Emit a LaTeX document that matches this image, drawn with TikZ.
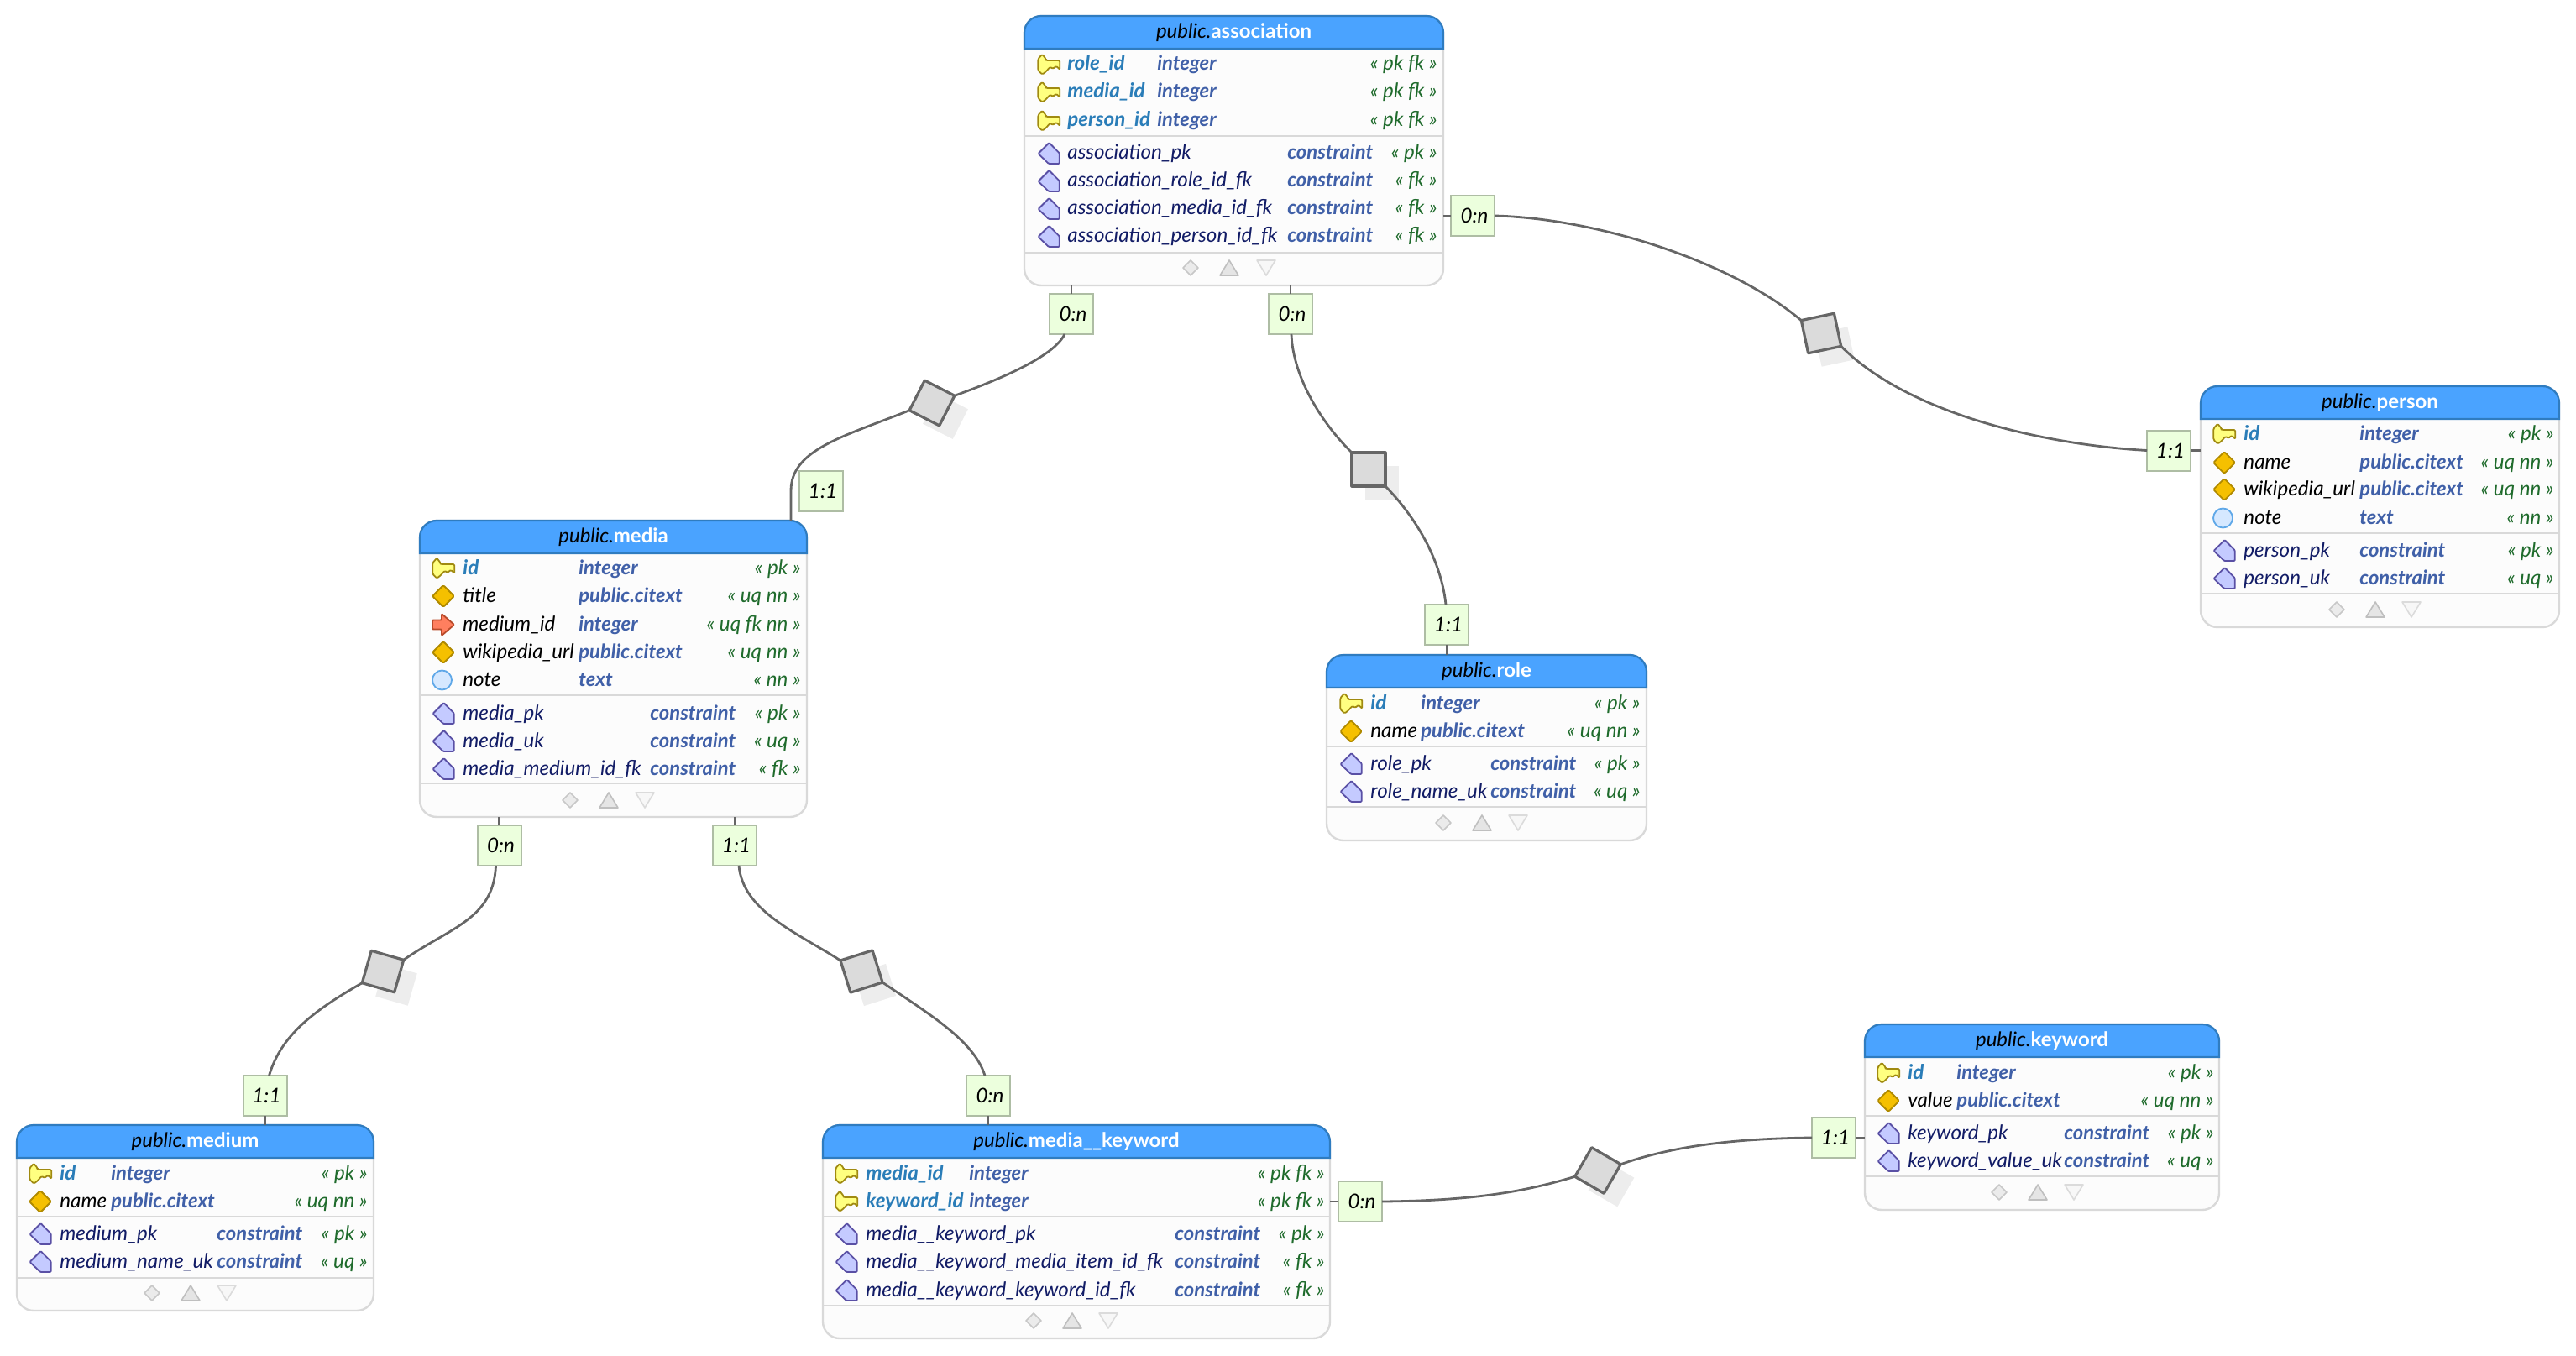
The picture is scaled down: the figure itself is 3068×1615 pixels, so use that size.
\documentclass[tikz,border=0pt]{standalone}
\usepackage{fontspec}
\setmainfont{Lato}
\usetikzlibrary{positioning}

\definecolor{headblue}{HTML}{4AA3FF}
\definecolor{headline}{HTML}{2F7CC0}
\definecolor{bodyfill}{HTML}{FCFCFC}
\definecolor{bodyline}{HTML}{D9D9D9}
\definecolor{pkblue}{HTML}{2A7DB8}
\definecolor{typeblue}{HTML}{4060A8}
\definecolor{conblue}{HTML}{121C66}
\definecolor{taggreen}{HTML}{1F6B2C}
\definecolor{cardfill}{HTML}{ECFFDD}
\definecolor{cardline}{HTML}{AEBDA4}
\definecolor{relgrey}{HTML}{666666}
\definecolor{keyfill}{HTML}{FFFF80}
\definecolor{keyline}{HTML}{A08A10}
\definecolor{uqfill}{HTML}{F5C000}
\definecolor{uqline}{HTML}{B08A00}
\definecolor{fkfill}{HTML}{FF7F5F}
\definecolor{fkline}{HTML}{B84A2A}
\definecolor{nnfill}{HTML}{D5E8FF}
\definecolor{nnline}{HTML}{5FA8E8}
\definecolor{confill}{HTML}{C4CAFF}
\definecolor{conline}{HTML}{5A50A5}

\tikzset{
  pkicon/.pic={\draw[fill=keyfill,draw=keyline,line width=.9pt,line join=round,rounded corners=.7pt]
    (-12.7,-6.7) -- (-7.7,-12.3) -- (-3.3,-6.7) -- (-3.3,-5) -- (13.3,-5) -- (13.3,6) -- (9,1.7)
    -- (5,5) -- (1.7,2.7) -- (-3.3,8.3) -- (-7.7,11.7) -- (-12.7,6.7) -- cycle;},
  uqicon/.pic={\draw[fill=uqfill,draw=uqline,line width=.9pt,line join=round,rounded corners=.8pt]
    (-13,0) -- (0,-13) -- (13,0) -- (0,13) -- cycle;},
  fkicon/.pic={\draw[fill=fkfill,draw=fkline,line width=.9pt,line join=round,rounded corners=.5pt]
    (-13,-5.5) -- (-2,-5.5) -- (-2,-13) -- (13,0) -- (-2,13) -- (-2,5.5) -- (-13,5.5) -- cycle;},
  nnicon/.pic={\draw[fill=nnfill,draw=nnline,line width=.9pt]
    (-1.5,0) circle (11.5);},
  conicon/.pic={\draw[fill=confill,draw=conline,line width=.9pt,line join=round,rounded corners=.5pt]
    (-12.5,0) -- (0.5,-13) -- (12.7,-0.7) -- (12.7,12) -- (0,12) -- cycle;},
  fdia/.pic={\draw[fill=black!8,draw=black!22,line width=.8pt,line join=round]
    (-9,0) -- (0,-9) -- (9,0) -- (0,9) -- cycle;},
  fup/.pic={\draw[fill=black!10,draw=black!25,line width=.8pt,line join=round]
    (-11,9) -- (0,-9) -- (11,9) -- cycle;},
  fdown/.pic={\draw[fill=black!3,draw=black!14,line width=.8pt,line join=round]
    (-11,-9) -- (11,-9) -- (0,9) -- cycle;}
}

% one box with title strip
\newcommand{\ertable}[6]{%
  \def\tid{#1}\def\tleft{#2}\def\tright{#4}%
  \node[tblbody,minimum width={(#4-#2)*0.5pt},minimum height={(#5-#3)*0.5pt}] (#1) at (#2,#3) {};
  \draw[tblhead] (#2,#3+39) [rounded corners=10pt] -- (#2,#3) -- (#4,#3) [sharp corners] -- (#4,#3+39) -- cycle;
  \node[tbltitle] (#1title) at ({(#2+#4)/2},{#3+20}) {{\itshape public.}\textcolor{white}{\bfseries #6}};}
\newcommand{\ercols}[5]{\def\iconx{#1}\def\namex{#2}\def\typex{#3}\def\conx{#4}\def\tagx{#5}}
\newcommand{\fieldrow}[6]{%
  \pic at (\iconx,#1) {#2};
  \node[cell,#3] (\tid n#1) at (\namex,#1) {#4};
  \node[cell,typecell] (\tid t#1) at (\typex,#1) {#5};
  \node[cell,tagcell] (\tid g#1) at (\tagx,#1) {#6};}
\newcommand{\conrow}[3]{%
  \pic at (\iconx,#1) {conicon};
  \node[cell,conname] (\tid n#1) at (\namex,#1) {#2};
  \node[cell,typecell] (\tid t#1) at (\conx,#1) {constraint};
  \node[cell,tagcell] (\tid g#1) at (\tagx,#1) {#3};}
\newcommand{\tblsep}[1]{\draw[tblrule] (\tleft,#1) -- (\tright,#1);}
\newcommand{\tblfoot}[4]{\pic at (#2,#1) {fdia}; \pic at (#3,#1) {fup}; \pic at (#4,#1) {fdown};}
\newcommand{\reldiamond}[4]{%
  \node[relshade,rotate=#4] (#1s) at ({#2+16},{#3+16}) {};
  \node[reldia,rotate=#4] (#1) at (#2,#3) {};}

\begin{document}
\begin{tikzpicture}
                [x=0.5pt,y=-0.5pt,
                tblbody/.style={rectangle,draw=bodyline,fill=bodyfill,line width=1.2pt,rounded corners=10pt,anchor=north west,inner sep=0pt,outer sep=0pt},
                tblhead/.style={draw=headline,fill=headblue,line width=1.1pt},
                tblrule/.style={draw=bodyline,line width=1.1pt},
                tbltitle/.style={inner sep=0pt,font=\fontsize{12}{14}\selectfont},
                cell/.style={inner sep=0pt,text height=9.5pt,text depth=2.5pt,anchor=west,font=\fontsize{12.1}{14}\selectfont\itshape},
                pkname/.style={text=pkblue,font=\fontsize{12.1}{14}\selectfont\itshape\bfseries},
                plainname/.style={text=black},
                conname/.style={text=conblue},
                typecell/.style={text=typeblue,font=\fontsize{11.9}{14}\selectfont\itshape\bfseries},
                tagcell/.style={text=taggreen,anchor=east},
                card/.style={rectangle,draw=cardline,fill=cardfill,line width=1pt,minimum width=26pt,minimum height=24pt,inner sep=0pt,outer sep=0pt,font=\fontsize{12.1}{14}\selectfont\itshape},
                relline/.style={draw=relgrey,line width=1.4pt},
                reldia/.style={rectangle,draw=relgrey,fill=black!14,line width=1.6pt,minimum size=20pt,inner sep=0pt,outer sep=0pt,line join=round},
                relshade/.style={rectangle,fill=black!7,minimum size=20pt,inner sep=0pt,outer sep=0pt}]
                \useasboundingbox (0,0) rectangle (3068,1615);
                % association
                \ertable{assoc}{1220}{19}{1719}{340}{association}
                \ercols{1249}{1271}{1378}{1533}{1712}
                \fieldrow{77}{pkicon}{pkname}{role\_id}{integer}{« pk fk »}
                \fieldrow{110}{pkicon}{pkname}{media\_id}{integer}{« pk fk »}
                \fieldrow{144}{pkicon}{pkname}{person\_id}{integer}{« pk fk »}
                \tblsep{162}
                \conrow{183}{association\_pk}{« pk »}
                \conrow{216}{association\_role\_id\_fk}{« fk »}
                \conrow{249}{association\_media\_id\_fk}{« fk »}
                \conrow{282}{association\_person\_id\_fk}{« fk »}
                \tblsep{301}
                \tblfoot{319}{1418}{1464}{1508}
                % media
                \ertable{media}{500}{620}{961}{973}{media}
                \ercols{528}{551}{689}{774}{954}
                \fieldrow{677}{pkicon}{pkname}{id}{integer}{« pk »}
                \fieldrow{710}{uqicon}{plainname}{title}{public.citext}{« uq nn »}
                \fieldrow{744}{fkicon}{plainname}{medium\_id}{integer}{« uq fk nn »}
                \fieldrow{777}{uqicon}{plainname}{wikipedia\_url}{public.citext}{« uq nn »}
                \fieldrow{810}{nnicon}{plainname}{note}{text}{« nn »}
                \tblsep{828}
                \conrow{850}{media\_pk}{« pk »}
                \conrow{883}{media\_uk}{« uq »}
                \conrow{916}{media\_medium\_id\_fk}{« fk »}
                \tblsep{933}
                \tblfoot{953}{679}{725}{768}
                % person
                \ertable{person}{2621}{460}{3048}{747}{person}
                \ercols{2649}{2672}{2810}{2810}{3042}
                \fieldrow{517}{pkicon}{pkname}{id}{integer}{« pk »}
                \fieldrow{551}{uqicon}{plainname}{name}{public.citext}{« uq nn »}
                \fieldrow{583}{uqicon}{plainname}{wikipedia\_url}{public.citext}{« uq nn »}
                \fieldrow{617}{nnicon}{plainname}{note}{text}{« nn »}
                \tblsep{635}
                \conrow{656}{person\_pk}{« pk »}
                \conrow{689}{person\_uk}{« uq »}
                \tblsep{707}
                \tblfoot{726}{2783}{2829}{2872}
                % role
                \ertable{role}{1580}{780}{1961}{1001}{role}
                \ercols{1609}{1632}{1692}{1775}{1954}
                \fieldrow{838}{pkicon}{pkname}{id}{integer}{« pk »}
                \fieldrow{871}{uqicon}{plainname}{name}{public.citext}{« uq nn »}
                \tblsep{889}
                \conrow{910}{role\_pk}{« pk »}
                \conrow{943}{role\_name\_uk}{« uq »}
                \tblsep{961}
                \tblfoot{980}{1719}{1765}{1808}
                % medium
                \ertable{medium}{20}{1340}{445}{1561}{medium}
                \ercols{48}{71}{132}{258}{438}
                \fieldrow{1398}{pkicon}{pkname}{id}{integer}{« pk »}
                \fieldrow{1431}{uqicon}{plainname}{name}{public.citext}{« uq nn »}
                \tblsep{1449}
                \conrow{1470}{medium\_pk}{« pk »}
                \conrow{1503}{medium\_name\_uk}{« uq »}
                \tblsep{1522}
                \tblfoot{1540}{181}{227}{270}
                % media__keyword
                \ertable{mkw}{980}{1340}{1584}{1594}{media\_\_keyword}
                \ercols{1008}{1031}{1154}{1399}{1578}
                \fieldrow{1398}{pkicon}{pkname}{media\_id}{integer}{« pk fk »}
                \fieldrow{1431}{pkicon}{pkname}{keyword\_id}{integer}{« pk fk »}
                \tblsep{1449}
                \conrow{1470}{media\_\_keyword\_pk}{« pk »}
                \conrow{1503}{media\_\_keyword\_media\_item\_id\_fk}{« fk »}
                \conrow{1537}{media\_\_keyword\_keyword\_id\_fk}{« fk »}
                \tblsep{1555}
                \tblfoot{1573}{1231}{1277}{1320}
                % keyword
                \ertable{keyword}{2221}{1220}{2643}{1441}{keyword}
                \ercols{2249}{2272}{2330}{2458}{2637}
                \fieldrow{1278}{pkicon}{pkname}{id}{integer}{« pk »}
                \fieldrow{1311}{uqicon}{plainname}{value}{public.citext}{« uq nn »}
                \tblsep{1329}
                \conrow{1350}{keyword\_pk}{« pk »}
                \conrow{1383}{keyword\_value\_uk}{« uq »}
                \tblsep{1401}
                \tblfoot{1420}{2381}{2427}{2470}
                % cards
                \node[card,node distance=5pt,xshift=28pt] (camedia)[below=of assoc.south west]{\hspace*{2pt}0:n};
                \node[card,node distance=5pt,xshift=158.5pt] (carole)[below=of assoc.south west]{\hspace*{2pt}0:n};
                \node[card,node distance=4.5pt,yshift=-38.75pt] (caperson)[right=of assoc.east]{\hspace*{2pt}0:n};
                \node[card,node distance=5.75pt,xshift=239pt] (cmassoc)[above=of media.north west]{\hspace*{2pt}1:1};
                \node[card,node distance=6pt,xshift=71.5pt] (crassoc)[above=of role.north west]{\hspace*{2pt}1:1};
                \node[card,node distance=6pt,yshift=33.5pt] (cpassoc)[left=of person.west]{\hspace*{2pt}1:1};
                \node[card,node distance=5pt,xshift=47.25pt] (cmmedium)[below=of media.south west]{\hspace*{2pt}0:n};
                \node[card,node distance=5pt,xshift=187.5pt] (cmkw)[below=of media.south west]{\hspace*{2pt}1:1};
                \node[card,node distance=5.5pt,xshift=147.75pt] (cmedium)[above=of medium.north west]{\hspace*{2pt}1:1};
                \node[card,node distance=5.5pt,xshift=98.5pt] (ckmedia)[above=of mkw.north west]{\hspace*{2pt}0:n};
                \node[card,node distance=5pt,yshift=18pt] (ckkeyword)[right=of mkw.east]{\hspace*{2pt}0:n};
                \node[card,node distance=5.5pt,yshift=-12.25pt] (ckeyword)[left=of keyword.west]{\hspace*{2pt}1:1};
                % diamonds
                \reldiamond{dmedia}{1110}{480}{-27}
                \reldiamond{drole}{1630}{559}{0}
                \reldiamond{dperson}{2169}{397}{12}
                \reldiamond{dmedium}{456}{1157}{-16}
                \reldiamond{dmkw}{1026}{1157}{17.5}
                \reldiamond{dkeyword}{1903}{1394}{-30}
                % stubs
                \draw[relline] (camedia.north |- assoc.south) -- (camedia.north);
                \draw[relline] (carole.north |- assoc.south) -- (carole.north);
                \draw[relline] (caperson.west -| assoc.east) -- (caperson.west);
                \draw[relline] (crassoc.south |- role.north) -- (crassoc.south);
                \draw[relline] (cpassoc.east -| person.west) -- (cpassoc.east);
                \draw[relline] (cmmedium.north |- media.south) -- (cmmedium.north);
                \draw[relline] (cmkw.north |- media.south) -- (cmkw.north);
                \draw[relline] (cmedium.south |- medium.north) -- (cmedium.south);
                \draw[relline] (ckmedia.south |- mkw.north) -- (ckmedia.south);
                \draw[relline] (ckkeyword.west -| mkw.east) -- (ckkeyword.west);
                \draw[relline] (ckeyword.east -| keyword.west) -- (ckeyword.east);
                % curves
                \coordinate[xshift=-5pt] (mtop) at (cmassoc.west);
                \draw[relline] ([xshift=-4pt]camedia.south) .. controls (1255,425) and (1190,452) .. (dmedia.north east);
                \draw[relline] (dmedia.south west) .. controls (1005,520) and (942,535) .. (mtop) -- (mtop |- media.north);
                \draw[relline] ([xshift=.5pt]carole.south) .. controls (1540,450) and (1575,505) .. (drole.north west);
                \draw[relline] (drole.south east) .. controls (1685,615) and (1716,665) .. ([xshift=-.5pt]crassoc.north);
                \draw[relline] (caperson.east) .. controls (1900,260) and (2060,310) .. (dperson.north west);
                \draw[relline] (dperson.south east) .. controls (2275,495) and (2440,530) .. (cpassoc.west);
                \draw[relline] ([xshift=-2pt]cmmedium.south) .. controls (588,1095) and (535,1105) .. (dmedium.north east);
                \draw[relline] (dmedium.south west) .. controls (375,1203) and (335,1232) .. ([xshift=2.5pt]cmedium.north);
                \draw[relline] ([xshift=2.5pt]cmkw.south) .. controls (885,1085) and (948,1110) .. (dmkw.north west);
                \draw[relline] (dmkw.south east) .. controls (1110,1210) and (1160,1240) .. ([xshift=-2pt]ckmedia.north);
                \draw[relline] (ckkeyword.east) .. controls (1760,1430) and (1820,1418) .. (dkeyword.south west);
                \draw[relline] (dkeyword.north east) .. controls (2000,1362) and (2080,1356) .. (ckeyword.west);
            \end{tikzpicture}
\end{document}
